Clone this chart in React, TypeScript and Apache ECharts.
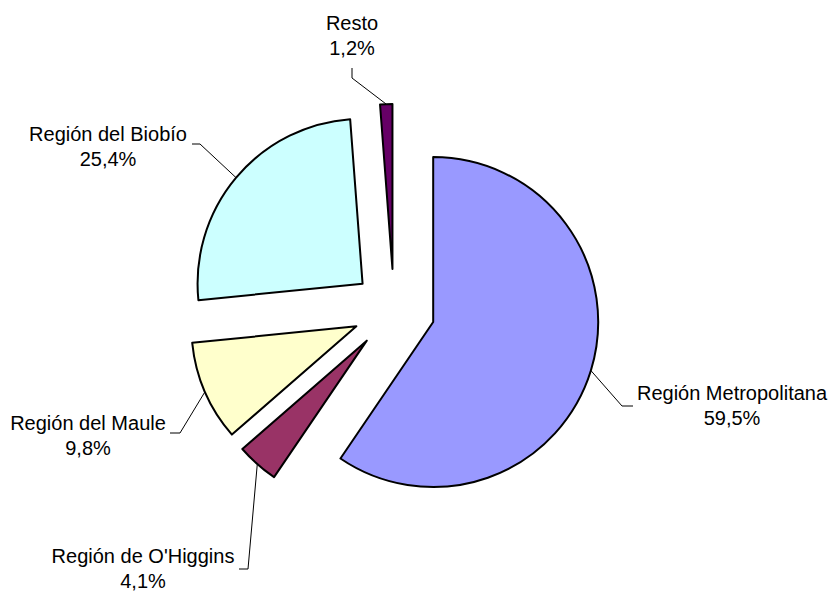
import React, { useEffect, useRef } from 'react';
import * as echarts from 'echarts';

const categories = ['Región Metropolitana', "Región de O'Higgins", 'Región del Maule', 'Región del Biobío', 'Resto'];
const shares = [59.5, 4.1, 9.8, 25.4, 1.2];
const colors = ['#9999FF', '#993366', '#FFFFCC', '#CCFFFF', '#660066'];

// layout constants
const CX = 394;
const CY = 310;
const R = 165;
const OFFSET = 41;
const labelCenters = [[732, 405], [143, 568], [88, 435], [108, 146], [352, 35]];
const leaderEnds = [
  [[622, 406], [633, 406]],
  [[248, 569], [239, 569]],
  [[180, 433], [170, 433]],
  [[200, 144], [192, 144]],
  [[352, 78], [352, 68]],
];

export default function App() {
  const ref = useRef<HTMLDivElement>(null);
  useEffect(() => {
    if (!ref.current) return;
    const chart = echarts.init(ref.current, null, { renderer: 'svg' });
    const total = shares.reduce((a, b) => a + b, 0);
    let cum = 0;
    const series: any[] = shares.map((v, i) => {
      const f = (cum + v / 2) / total;
      cum += v;
      const th = f * Math.PI * 2;
      const sx = Math.sin(th);
      const sy = -Math.cos(th);
      const cx = CX + OFFSET * sx;
      const cy = CY + OFFSET * sy;
      const start = [cx + R * sx, cy + R * sy];
      return {
        type: 'pie',
        silent: true,
        radius: R,
        center: [cx, cy],
        startAngle: 90,
        clockwise: true,
        avoidLabelOverlap: false,
        minAngle: 0,
        emphasis: { disabled: true },
        data: categories.map((name, j) => ({
          name,
          value: shares[j],
          itemStyle:
            j === i
              ? { color: colors[j], borderColor: '#000', borderWidth: 2 }
              : { color: 'rgba(0,0,0,0)', borderWidth: 0 },
          label: { show: j === i },
          labelLine: { show: j === i },
        })),
        label: {
          position: 'outside',
          formatter: (p: any) => p.name + '\n' + Number(p.value).toFixed(1).replace('.', ',') + '%',
          fontFamily: '"Liberation Sans", Arial, sans-serif',
          fontSize: 20,
          lineHeight: 25,
          color: '#000',
          align: 'center',
        },
        labelLine: {
          show: true,
          smooth: false,
          length: 20,
          length2: 10,
          lineStyle: { color: '#000', width: 1 },
        },
        labelLayout: (params: any) => {
          if (params.dataIndex !== i) return {};
          return {
            x: labelCenters[i][0],
            y: labelCenters[i][1],
            align: 'center',
            verticalAlign: 'middle',
            labelLinePoints: [start, leaderEnds[i][0], leaderEnds[i][1]],
          };
        },
      };
    });
    chart.setOption({
      animation: false,
      backgroundColor: '#fff',
      series,
    });
    return () => chart.dispose();
  }, []);
  return (
    <div
      ref={ref}
      style={{ position: 'fixed', left: 0, top: 0, width: 832, height: 592 }}
    />
  );
}
